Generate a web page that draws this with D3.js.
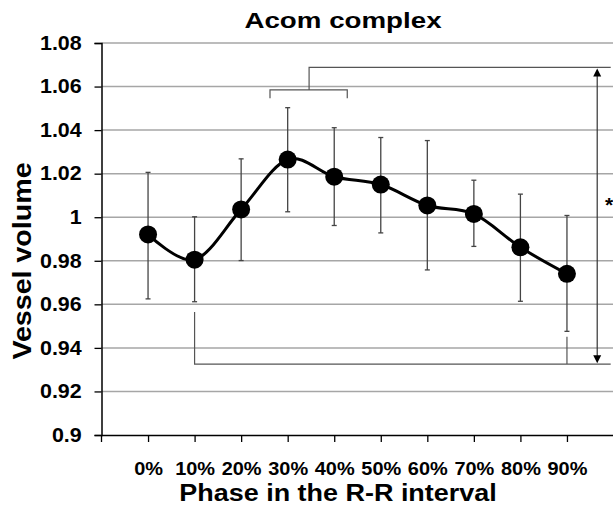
<!DOCTYPE html>
<html>
<head>
<meta charset="utf-8">
<script src="https://cdn.jsdelivr.net/npm/d3@7"></script>
<style>
  body { margin: 0; background: #fff; }
  svg text { font-family: "Liberation Sans", Arial, sans-serif; font-weight: bold; fill: #000; }
</style>
</head>
<body>
<svg id="chart" width="613" height="506"></svg>
<script>
// phases of the R-R interval
const phases = ["0%", "10%", "20%", "30%", "40%", "50%", "60%", "70%", "80%", "90%"];
// mean vessel volume per phase
const volume = [0.9921, 0.9805, 1.0036, 1.0265, 1.0186, 1.0150, 1.0054, 1.0015, 0.9862, 0.9740];
// error bar ends
const errHigh = [1.0206, 1.0002, 1.0268, 1.0503, 1.0411, 1.0366, 1.0352, 1.0170, 1.0106, 1.0008];
const errLow = [0.9625, 0.9612, 0.9801, 1.0025, 0.9962, 0.9928, 0.9758, 0.9866, 0.9614, 0.9476];
const yTicks = [0.9, 0.92, 0.94, 0.96, 0.98, 1, 1.02, 1.04, 1.06, 1.08];

const svg = d3.select("#chart");
const stretch = 1.1; // the original text is a bit wider than it is tall

const x = d3.scaleLinear().domain([-1, 10]).range([101.5, 613.5]);
const y = d3.scaleLinear().domain([0.9, 1.08]).range([435, 43]);

// gridlines
svg.append("g")
  .selectAll("line")
  .data(yTicks.slice(1))
  .join("line")
  .attr("x1", x(-1)).attr("x2", 613)
  .attr("y1", d => y(d)).attr("y2", d => y(d))
  .attr("stroke", "#a6a6a6").attr("stroke-width", 1.5);

// y axis
const yAxis = svg.append("g")
  .attr("transform", `translate(${x(-1)},0)`)
  .call(d3.axisLeft(y).tickValues(yTicks).tickFormat(d => d3.format("")(+d.toFixed(2))).tickSize(7).tickPadding(11));
yAxis.select(".domain").attr("stroke", "#000").attr("stroke-width", 1.5);
yAxis.selectAll(".tick line").attr("stroke", "#000").attr("stroke-width", 1.3);
yAxis.selectAll(".tick text")
  .style("font-size", "19.5px").attr("font-family", null)
  .attr("transform", `scale(${stretch},1)`);

// x axis
const xAxis = svg.append("g")
  .attr("transform", `translate(0,${y(0.9)})`)
  .call(d3.axisBottom(x).tickValues(d3.range(phases.length)).tickFormat(i => phases[i]).tickSize(7).tickSizeOuter(0).tickPadding(21));
xAxis.select(".domain").attr("stroke", "#000").attr("stroke-width", 1.5);
xAxis.selectAll(".tick line").attr("stroke", "#000").attr("stroke-width", 1.3);
xAxis.selectAll(".tick text")
  .style("font-size", "17.5px").attr("font-family", null)
  .attr("transform", "scale(1.14,1)");
xAxis.append("line")
  .attr("x1", x(-1)).attr("x2", x(-1)).attr("y1", 0).attr("y2", 7)
  .attr("stroke", "#000").attr("stroke-width", 1.3);

// significance brackets
const ann = svg.append("g").attr("fill", "none").attr("stroke", "#555").attr("stroke-width", 1.2);
const topY = y(1.0688), brY = y(1.0585), brTip = y(1.0546), botY = y(0.9325);
ann.append("path")
  .attr("d", `M${x(2.62)},${brTip}V${brY}H${x(4.28)}V${brTip}M${x(3.46)},${brY}V${topY}H${x(9.94)}`);
ann.append("path")
  .attr("d", `M${x(1)},${y(0.9565)}V${botY}H${x(9.94)}M${x(9)},${y(0.9451)}V${botY}`);

const arrowX = x(9.65);
svg.append("line")
  .attr("x1", arrowX).attr("x2", arrowX)
  .attr("y1", topY + 6).attr("y2", botY - 6)
  .attr("stroke", "#333").attr("stroke-width", 1.2);
svg.append("path")
  .attr("d", `M${arrowX},${topY + 1}l-4,8h8z M${arrowX},${botY - 1}l-4,-8h8z`)
  .attr("fill", "#000");
svg.append("text")
  .attr("x", 609).attr("y", 212)
  .attr("text-anchor", "middle")
  .style("font-size", "21px")
  .text("*");

// error bars
const err = svg.append("g").attr("stroke", "#444").attr("stroke-width", 1.3);
phases.forEach((p, i) => {
  err.append("line")
    .attr("x1", x(i)).attr("x2", x(i))
    .attr("y1", y(errLow[i])).attr("y2", y(errHigh[i]));
  [errLow[i], errHigh[i]].forEach(v => {
    err.append("line")
      .attr("x1", x(i) - 2.5).attr("x2", x(i) + 2.5)
      .attr("y1", y(v)).attr("y2", y(v));
  });
});

// smoothed line
const line = d3.line()
  .x((d, i) => x(i))
  .y(d => y(d))
  .curve(d3.curveCatmullRom.alpha(0));
svg.append("path")
  .datum(volume)
  .attr("d", line)
  .attr("fill", "none")
  .attr("stroke", "#000")
  .attr("stroke-width", 3);

svg.append("g")
  .selectAll("circle")
  .data(volume)
  .join("circle")
  .attr("cx", (d, i) => x(i))
  .attr("cy", d => y(d))
  .attr("r", 9)
  .attr("fill", "#000");

// titles
svg.append("text")
  .attr("transform", "translate(343,28) scale(1.26,1)")
  .attr("text-anchor", "middle")
  .style("font-size", "22px")
  .text("Acom complex");

svg.append("text")
  .attr("transform", `translate(338,501) scale(${stretch},1)`)
  .attr("text-anchor", "middle")
  .style("font-size", "24.5px")
  .text("Phase in the R-R interval");

svg.append("text")
  .attr("transform", `translate(31,261) rotate(-90) scale(${stretch},1)`)
  .attr("text-anchor", "middle")
  .style("font-size", "26px")
  .text("Vessel volume");
</script>
</body>
</html>
